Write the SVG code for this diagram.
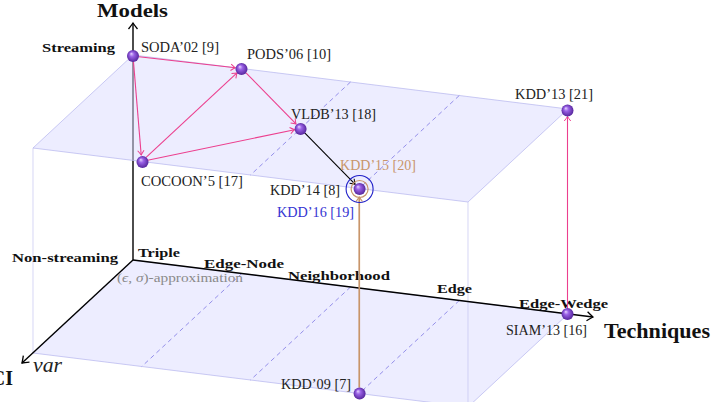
<svg xmlns="http://www.w3.org/2000/svg" width="714" height="402" viewBox="0 0 714 402">
<style>
text{font-family:"Liberation Serif","DejaVu Serif",serif;}
.lbl{font-size:14px;fill:#222;}
.bl{font-size:13.5px;font-weight:bold;fill:#111;}
.big{font-size:20px;font-weight:bold;fill:#111;}
.plane{fill:#dcdcff;fill-opacity:0.5;stroke:#b4b4ee;stroke-width:0.7;}
.edge{stroke:#c4c4f0;stroke-width:0.7;fill:none;}
.dash{stroke:#8a84e6;stroke-width:0.9;stroke-dasharray:4.5 3.5;fill:none;}
.axis{stroke:#000;stroke-width:1.4;fill:none;marker-end:url(#ah-axis);}
.pink{stroke:#ec3f8e;stroke-width:1.1;fill:none;marker-end:url(#ah-pink);}
.blk{stroke:#000;stroke-width:1.1;fill:none;marker-end:url(#ah-black);}
.tan{stroke:#c8956a;stroke-width:1.7;fill:none;marker-end:url(#ah-tan);}
.ball{fill:url(#ballg);}
</style>
<defs>
<radialGradient id="ballg" cx="0.5" cy="0.5" r="0.55" fx="0.35" fy="0.3">
<stop offset="0" stop-color="#e6d4ff"/>
<stop offset="0.35" stop-color="#9a62e6"/>
<stop offset="1" stop-color="#4e1f94"/>
</radialGradient>
<marker id="ah-axis" markerUnits="userSpaceOnUse" orient="auto" refX="0" refY="0" markerWidth="12" markerHeight="12" overflow="visible">
<path d="M-6,-4.5 Q-2,-1.3 0,0 Q-2,1.3 -6,4.5" fill="none" stroke="#000" stroke-width="1.3"/>
</marker>
<marker id="ah-pink" markerUnits="userSpaceOnUse" orient="auto" refX="0" refY="0" markerWidth="10" markerHeight="10" overflow="visible">
<path d="M-4.5,-3.2 Q-1.5,-0.9 0,0 Q-1.5,0.9 -4.5,3.2" fill="none" stroke="#ec3f8e" stroke-width="1"/>
</marker>
<marker id="ah-black" markerUnits="userSpaceOnUse" orient="auto" refX="0" refY="0" markerWidth="10" markerHeight="10" overflow="visible">
<path d="M-4.5,-3.2 Q-1.5,-0.9 0,0 Q-1.5,0.9 -4.5,3.2" fill="none" stroke="#000" stroke-width="1"/>
</marker>
<marker id="ah-tan" markerUnits="userSpaceOnUse" orient="auto" refX="0" refY="0" markerWidth="10" markerHeight="10" overflow="visible">
<path d="M-4.5,-3.2 Q-1.5,-0.9 0,0 Q-1.5,0.9 -4.5,3.2" fill="none" stroke="#c8956a" stroke-width="1.2"/>
</marker>
</defs>
<rect width="714" height="402" fill="#fff"/>

<g id="bottom-plane">
<polygon class="plane" points="133,260 568,314 468,407 33,353"/>
<line class="dash" x1="241.75" y1="273.5" x2="141.75" y2="366.5"/>
<line class="dash" x1="350.5" y1="287" x2="250.5" y2="380"/>
<line class="dash" x1="459.25" y1="300.5" x2="359.25" y2="393.5"/>
</g>

<g id="box-edges">
<line class="edge" x1="33" y1="148" x2="33" y2="353"/>
<line class="edge" x1="468" y1="202" x2="468" y2="407"/>
</g>

<g id="axes">
<line class="axis" x1="133" y1="260" x2="133" y2="23"/>
<line class="axis" x1="133" y1="260" x2="593" y2="317"/>
<line class="axis" x1="133" y1="260" x2="22" y2="363"/>
<text class="big" x="97" y="17" font-size="19" style="font-size:19px" textLength="71" lengthAdjust="spacingAndGlyphs">Models</text>
<text class="big" x="604" y="338" textLength="106" lengthAdjust="spacingAndGlyphs">Techniques</text>
<text class="big" x="13" y="385" text-anchor="end">CI</text>
<text x="33" y="372" font-size="20" font-style="italic" fill="#222" textLength="29" lengthAdjust="spacingAndGlyphs">var</text>
<text class="bl" x="42" y="52" textLength="73" lengthAdjust="spacingAndGlyphs">Streaming</text>
<text class="bl" x="12" y="262" textLength="106" lengthAdjust="spacingAndGlyphs">Non-streaming</text>
<text class="bl" x="138" y="257" textLength="42" lengthAdjust="spacingAndGlyphs">Triple</text>
<text class="bl" x="204" y="268" textLength="80" lengthAdjust="spacingAndGlyphs">Edge-Node</text>
<text class="bl" x="288" y="280" textLength="102" lengthAdjust="spacingAndGlyphs">Neighborhood</text>
<text class="bl" x="437" y="293" textLength="35" lengthAdjust="spacingAndGlyphs">Edge</text>
<text class="bl" x="519" y="308" textLength="89" lengthAdjust="spacingAndGlyphs">Edge-Wedge</text>
<text x="117" y="282" font-size="13.5" fill="#8a8a8a" textLength="126" lengthAdjust="spacingAndGlyphs">(<tspan font-style="italic">ϵ</tspan>, <tspan font-style="italic">σ</tspan>)-approximation</text>
</g>

<g id="top-plane">
<polygon class="plane" points="133,55 568,109 468,202 33,148"/>
<line class="dash" x1="350.5" y1="82" x2="250.5" y2="175"/>
<line class="dash" x1="459.25" y1="95.5" x2="359.25" y2="188.5"/>
</g>

<g id="connectors">
<line class="pink" x1="139" y1="56.7" x2="235.3" y2="67.8"/>
<line class="pink" x1="133.5" y1="62" x2="141.2" y2="155"/>
<line class="pink" x1="146.1" y1="157.4" x2="237" y2="72.9"/>
<line class="pink" x1="147.6" y1="160.3" x2="294.6" y2="129.7"/>
<line class="pink" x1="246" y1="72.8" x2="296" y2="123.9"/>
<line class="blk" x1="304.7" y1="132.8" x2="355" y2="184.2"/>
<line class="tan" x1="359.25" y1="387.5" x2="359.25" y2="197"/>
<line class="pink" x1="567.5" y1="308" x2="567.5" y2="116.5"/>
</g>

<g id="soda"><circle class="ball" cx="133" cy="56" r="6"/><text class="lbl" x="141" y="52" textLength="78" lengthAdjust="spacingAndGlyphs">SODA’02 [9]</text></g>
<g id="pods"><circle class="ball" cx="241.5" cy="69" r="6"/><text class="lbl" x="247" y="59" textLength="84" lengthAdjust="spacingAndGlyphs">PODS’06 [10]</text></g>
<g id="vldb"><circle class="ball" cx="300.6" cy="129" r="6"/><text class="lbl" x="291" y="119" textLength="85" lengthAdjust="spacingAndGlyphs">VLDB’13 [18]</text></g>
<g id="cocoon"><circle class="ball" cx="142.5" cy="162" r="6"/><text class="lbl" x="141" y="186" textLength="102" lengthAdjust="spacingAndGlyphs">COCOON’5 [17]</text></g>
<g id="kdd14">
<circle cx="359.6" cy="189" r="13.5" fill="none" stroke="#2020c8" stroke-width="1.1"/>
<circle cx="359.6" cy="189" r="8.5" fill="none" stroke="#c8956a" stroke-width="1.2"/>
<circle class="ball" cx="359.6" cy="189" r="6"/>
<text class="lbl" x="270" y="195" textLength="70" lengthAdjust="spacingAndGlyphs">KDD’14 [8]</text>
</g>
<g id="kdd15"><text class="lbl" x="340" y="170" style="fill:#c8956a" textLength="76" lengthAdjust="spacingAndGlyphs">KDD’15 [20]</text></g>
<g id="kdd16"><text class="lbl" x="277" y="217" style="fill:#3434d2" textLength="77" lengthAdjust="spacingAndGlyphs">KDD’16 [19]</text></g>
<g id="kdd13"><circle class="ball" cx="567.5" cy="110.5" r="6"/><text class="lbl" x="515" y="99" textLength="78" lengthAdjust="spacingAndGlyphs">KDD’13 [21]</text></g>
<g id="siam"><circle class="ball" cx="567.5" cy="314" r="6"/><text class="lbl" x="506" y="335" textLength="81" lengthAdjust="spacingAndGlyphs">SIAM’13 [16]</text></g>
<g id="kdd09"><circle class="ball" cx="359.6" cy="393.5" r="6"/><text class="lbl" x="281" y="389" textLength="70" lengthAdjust="spacingAndGlyphs">KDD’09 [7]</text></g>
</svg>
